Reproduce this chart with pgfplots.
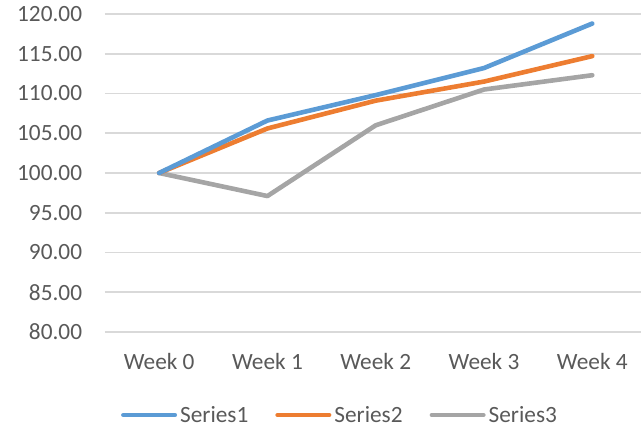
\documentclass[border=0pt]{standalone}
\usepackage{pgfplots}
\pgfplotsset{compat=1.18}
\usepackage{fontspec}
\setmainfont{Carlito}
\definecolor{s1}{HTML}{5B9BD5}
\definecolor{s2}{HTML}{ED7D31}
\definecolor{s3}{HTML}{A5A5A5}
\definecolor{txt}{HTML}{595959}
\definecolor{grd}{HTML}{D9D9D9}
\newcommand{\lblfont}{\fontsize{23.3pt}{28pt}\selectfont}
\begin{document}
\begin{tikzpicture}[x=1pt,y=1pt]
\path[use as bounding box] (0,0) rectangle (641,431);
\begin{axis}[
  at={(105pt,99pt)}, anchor=south west,
  scale only axis, width=536pt, height=318pt,
  xmin=-0.5, xmax=4.45, ymin=80, ymax=120,
  ytick={80,85,...,120},
  xtick={0,1,2,3,4},
  xticklabels={Week 0,Week 1,Week 2,Week 3,Week 4},
  axis line style={draw=none},
  major tick length=0pt,
  tick style={draw=none},
  ymajorgrids,
  grid style={grd, line width=1.6pt},
  /pgf/number format/assume math mode=true,
  yticklabel style={/pgf/number format/fixed, /pgf/number format/fixed zerofill, /pgf/number format/precision=2, /pgf/number format/1000 sep={}},
  tick label style={font=\lblfont, text=txt, inner sep=0pt},
  yticklabel style={anchor=east, xshift=-22.7pt},
  xticklabel style={anchor=base, yshift=-38pt},
  legend columns=3,
  legend style={at={(0.03,-0.261)}, anchor=west, draw=none, fill=none, inner sep=0pt, outer sep=0pt,
    /tikz/every odd column/.append style={column sep=3pt},
    /tikz/every even column/.append style={column sep=27pt},
    nodes={inner sep=0pt, anchor=west, text=txt, font=\lblfont}},
  legend image code/.code={\draw[#1, line width=4.5pt, line cap=round] (2.25pt,0pt) -- (53.75pt,0pt);},
  every axis plot/.append style={line width=4.6pt, line cap=round, line join=round, mark=none},
]
\addplot[s3, forget plot] coordinates {(0,100) (1,97.1) (2,106.0) (3,110.5) (4,112.3)};
\addplot[s2, forget plot] coordinates {(0,100) (1,105.6) (2,109.1) (3,111.5) (4,114.7)};
\addplot[s1, forget plot] coordinates {(0,100) (1,106.6) (2,109.8) (3,113.2) (4,118.8)};
\addlegendimage{s1}\addlegendentry{Series1}
\addlegendimage{s2}\addlegendentry{Series2}
\addlegendimage{s3}\addlegendentry{Series3}
\end{axis}
\end{tikzpicture}
\end{document}
